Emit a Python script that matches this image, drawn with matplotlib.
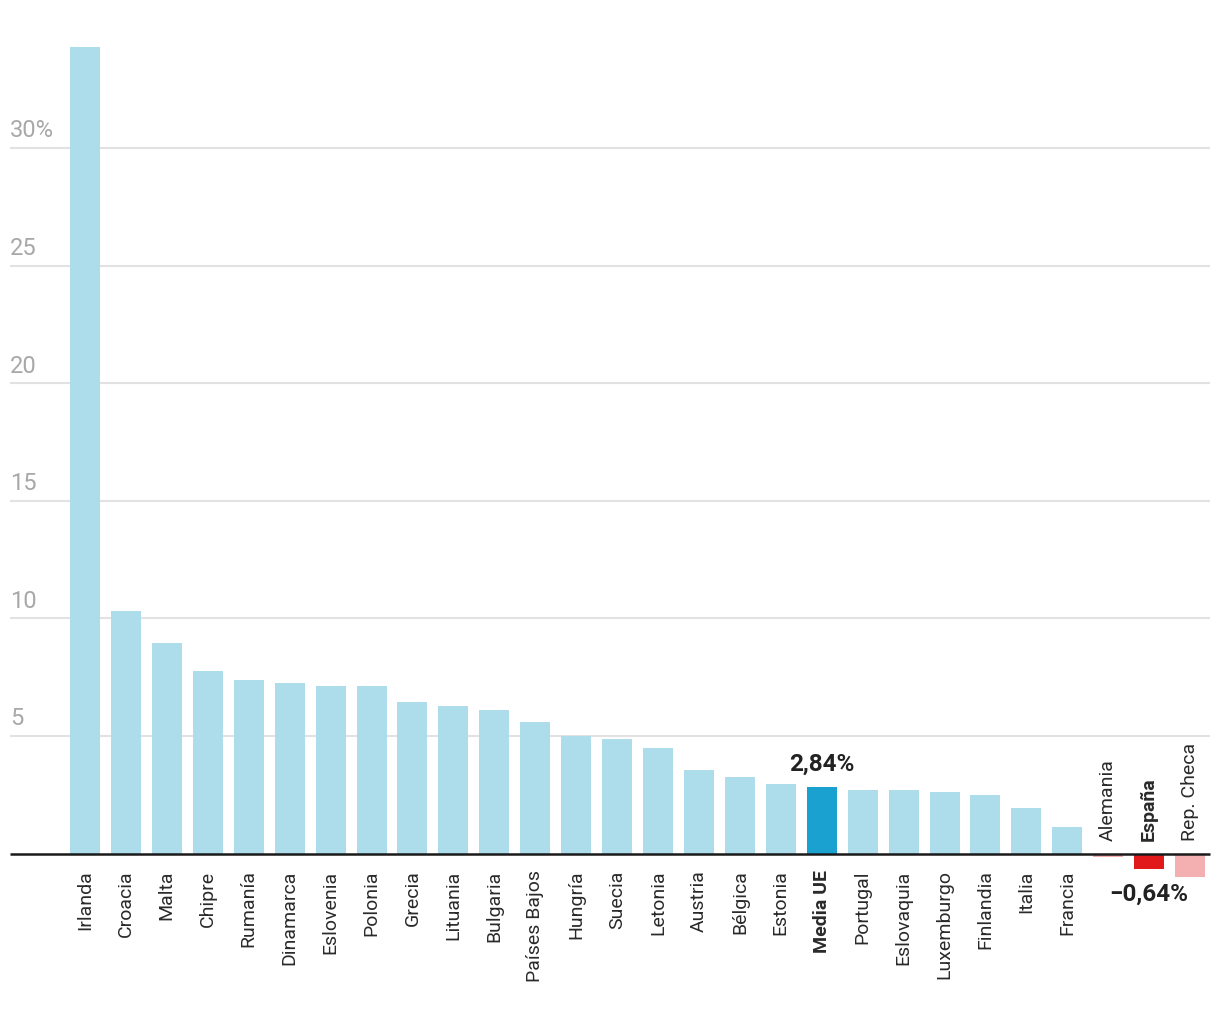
import matplotlib
matplotlib.use("Agg")
import matplotlib.pyplot as plt

plt.rcParams['font.family'] = ['Roboto', 'DejaVu Sans']

countries = ["Irlanda", "Croacia", "Malta", "Chipre", "Rumanía", "Dinamarca", "Eslovenia",
             "Polonia", "Grecia", "Lituania", "Bulgaria", "Países Bajos", "Hungría", "Suecia",
             "Letonia", "Austria", "Bélgica", "Estonia", "Media UE", "Portugal", "Eslovaquia",
             "Luxemburgo", "Finlandia", "Italia", "Francia", "Alemania", "España", "Rep. Checa"]
values = [34.29, 10.33, 8.93, 7.78, 7.36, 7.27, 7.14, 7.14, 6.43, 6.26, 6.09, 5.58, 4.98, 4.85,
          4.47, 3.55, 3.25, 2.96, 2.84, 2.68, 2.68, 2.60, 2.49, 1.93, 1.13, -0.14, -0.64, -1.00]
yticks = [5, 10, 15, 20, 25, 30]
ytick_labels = ["5", "10", "15", "20", "25", "30%"]
highlight_labels = {"Media UE": "2,84%", "España": "-0,64%"}

LIGHT_BLUE = "#ADDCEB"
MEDIA_BLUE = "#1BA1CF"
RED = "#E2191B"
PINK = "#F4AFB0"

def color_for(c, v):
    if c == "Media UE":
        return MEDIA_BLUE
    if c == "España":
        return RED
    if v < 0:
        return PINK
    return LIGHT_BLUE

fig = plt.figure(figsize=(12.2, 10.2), dpi=100)
ax = fig.add_axes([0, 0, 1, 1])
ax.set_axis_off()

# pixel mapping
px_x = 40.93
x0 = 85.0
py = 23.52
y0 = 854.5
W, H = 1220, 1020
ax.set_xlim(-x0 / px_x, (W - x0) / px_x)
ax.set_ylim(-(H - y0) / py, y0 / py)

xl = (10 - x0) / px_x
xr = (1210 - x0) / px_x

for t, lab in zip(yticks, ytick_labels):
    ax.hlines(t, xl, xr, color="#e2e2e2", lw=1.5, zorder=0)
    ax.text(xl, t + 18 / py, lab, ha="left", va="center", fontsize=17, color="#a8a8a8")

xs = list(range(len(countries)))
ax.bar(xs, values, width=30 / px_x, color=[color_for(c, v) for c, v in zip(countries, values)],
       zorder=2)
ax.hlines(0, xl, xr, color="#1a1a1a", lw=1.8, zorder=3)

for x, c, v in zip(xs, countries, values):
    weight = "bold" if c in highlight_labels else "normal"
    if v >= 0:
        ax.text(x, -16 / py, c, rotation=90, ha="center", va="top", fontsize=14,
                color="#2a2a2a", fontweight=weight)
    else:
        ax.text(x, 13 / py, c, rotation=90, ha="center", va="bottom", fontsize=14,
                color="#2a2a2a", fontweight=weight)
    if c in highlight_labels:
        if v >= 0:
            ax.text(x, v + 23 / py, highlight_labels[c], ha="center", va="center",
                    fontsize=17.5, fontweight="bold", color="#222222")
        else:
            ax.text(x, v - 25 / py, highlight_labels[c].replace("-", "\u2212"), ha="center",
                    va="center", fontsize=17.5, fontweight="bold", color="#222222")

fig.savefig("out.png", dpi=100)
